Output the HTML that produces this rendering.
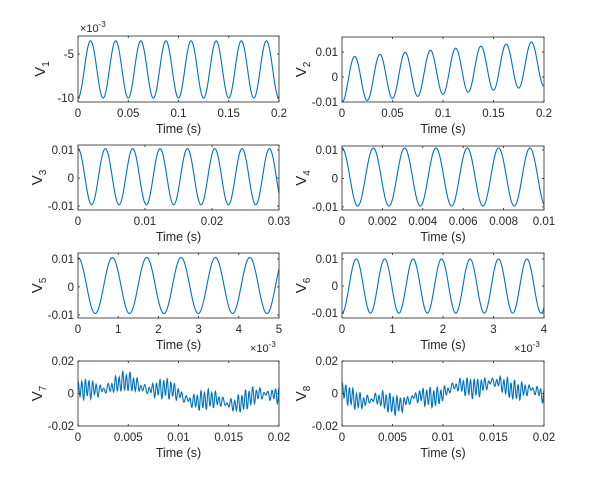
<!DOCTYPE html>
<html><head><meta charset="utf-8"><style>
body{margin:0;background:#fff;}
svg{display:block;font-family:"Liberation Sans",sans-serif;}
</style></head><body>
<svg id="s" width="600" height="493" xmlns="http://www.w3.org/2000/svg"></svg>
<script>
var s=document.getElementById('s'),h='';
var PI2=2*Math.PI;
function ax(o){
 var L=o.x0,R=o.x1,T=o.y0,B=o.y1;
 function X(t){return L+(t-o.xl[0])/(o.xl[1]-o.xl[0])*(R-L);}
 function Y(v){return B-(v-o.yl[0])/(o.yl[1]-o.yl[0])*(B-T);}
 var N=o.N||1500,d='';
 for(var i=0;i<=N;i++){var t=o.xl[0]+(o.xl[1]-o.xl[0])*i/N;var v=o.f(t);var y=Math.max(T,Math.min(B,Y(v)));d+=(i?'L':'M')+X(t).toFixed(2)+' '+y.toFixed(2);}
 h+='<path d="'+d+'" fill="none" stroke="#0072BD" stroke-width="1.1"/>';
 h+='<rect x="'+L+'" y="'+T+'" width="'+(R-L)+'" height="'+(B-T)+'" fill="none" stroke="#262626" stroke-width="0.8"/>';
 o.xt.forEach(function(t){var x=X(t[0]);h+='<line x1="'+x+'" x2="'+x+'" y1="'+B+'" y2="'+(B-2)+'" stroke="#262626" stroke-width="0.8"/><line x1="'+x+'" x2="'+x+'" y1="'+T+'" y2="'+(T+2)+'" stroke="#262626" stroke-width="0.8"/>';
  h+='<text x="'+x+'" y="'+(B+15)+'" font-size="11.5" fill="#262626" text-anchor="middle">'+t[1]+'</text>';});
 o.yt.forEach(function(t){var y=Y(t[0]);h+='<line x1="'+L+'" x2="'+(L+2)+'" y1="'+y+'" y2="'+y+'" stroke="#262626" stroke-width="0.8"/><line x1="'+R+'" x2="'+(R-2)+'" y1="'+y+'" y2="'+y+'" stroke="#262626" stroke-width="0.8"/>';
  h+='<text x="'+(L-4)+'" y="'+(y+4)+'" font-size="11.5" fill="#262626" text-anchor="end">'+t[1]+'</text>';});
 h+='<text x="'+((L+R)/2)+'" y="'+(B+31)+'" font-size="12.5" fill="#262626" text-anchor="middle">Time (s)</text>';
 var cx=L-(o.yw||36),cy=(T+B)/2;
 h+='<text transform="translate('+cx+' '+cy+') rotate(-90)" font-size="15" fill="#262626" text-anchor="middle">V<tspan font-size="10" dy="4">'+o.n+'</tspan></text>';
}
var c1=[78,279],c2=[342,544];
ax({n:1,x0:c1[0],x1:c1[1],y0:36,y1:102,xl:[0,0.2],yl:[-10.45,-2.95],f:function(t){return -6.75-3.25*Math.cos(PI2*40*t);},
 xt:[[0,'0'],[0.05,'0.05'],[0.1,'0.1'],[0.15,'0.15'],[0.2,'0.2']],yt:[[-5,'-5'],[-10,'-10']],yw:33});
h+='<text x="80" y="32" font-size="11" fill="#262626">×10<tspan font-size="8" dy="-5">-3</tspan></text>';
ax({n:2,x0:c2[0],x1:c2[1],y0:37,y1:102,xl:[0,0.2],yl:[-0.01,0.016],f:function(t){return -0.0012+0.033*t-0.009*Math.cos(PI2*40*t);},
 xt:[[0,'0'],[0.05,'0.05'],[0.1,'0.1'],[0.15,'0.15'],[0.2,'0.2']],yt:[[0.01,'0.01'],[0,'0'],[-0.01,'-0.01']]});
ax({n:3,x0:c1[0],x1:c1[1],y0:145,y1:210,xl:[0,0.03],yl:[-0.0114,0.0118],f:function(t){return 0.0005+0.01*Math.cos(PI2*245*t);},
 xt:[[0,'0'],[0.01,'0.01'],[0.02,'0.02'],[0.03,'0.03']],yt:[[0.01,'0.01'],[0,'0'],[-0.01,'-0.01']]});
ax({n:4,x0:c2[0],x1:c2[1],y0:146,y1:210,xl:[0,0.01],yl:[-0.0111,0.0114],f:function(t){return 0.0005+0.0102*Math.cos(PI2*645*t);},
 xt:[[0,'0'],[0.002,'0.002'],[0.004,'0.004'],[0.006,'0.006'],[0.008,'0.008'],[0.01,'0.01']],yt:[[0.01,'0.01'],[0,'0'],[-0.01,'-0.01']]});
ax({n:5,x0:c1[0],x1:c1[1],y0:253,y1:318,xl:[0,5],yl:[-0.0111,0.0121],f:function(t){return 0.0005+0.01*Math.cos(PI2*1.17*t);},
 xt:[[0,'0'],[1,'1'],[2,'2'],[3,'3'],[4,'4'],[5,'5']],yt:[[0.01,'0.01'],[0,'0'],[-0.01,'-0.01']]});
ax({n:6,x0:c2[0],x1:c2[1],y0:253,y1:318,xl:[0,4],yl:[-0.0118,0.0122],f:function(t){return -0.01*Math.cos(PI2*1.775*t);},
 xt:[[0,'0'],[1,'1'],[2,'2'],[3,'3'],[4,'4']],yt:[[0.01,'0.01'],[0,'0'],[-0.01,'-0.01']]});
ax({n:7,N:600,x0:c1[0],x1:c1[1],y0:361,y1:426,xl:[0,0.02],yl:[-0.02,0.02],f:function(t){return 0.0055*Math.sin(PI2*52*t)+0.0018*Math.sin(PI2*230*t+1)+0.0035*Math.sin(PI2*2700*t+1.6)+0.002*Math.sin(PI2*2950*t+0.5)+0.0012*Math.sin(PI2*1400*t);},
 xt:[[0,'0'],[0.005,'0.005'],[0.01,'0.01'],[0.015,'0.015'],[0.02,'0.02']],yt:[[0.02,'0.02'],[0,'0'],[-0.02,'-0.02']]});
ax({n:8,N:600,x0:c2[0],x1:c2[1],y0:361,y1:426,xl:[0,0.02],yl:[-0.02,0.02],f:function(t){return -0.0055*Math.sin(PI2*52*t)+0.0018*Math.sin(PI2*260*t+2)+0.0035*Math.sin(PI2*2750*t+1.6)+0.002*Math.sin(PI2*3000*t+0.2)+0.0012*Math.sin(PI2*1300*t);},
 xt:[[0,'0'],[0.005,'0.005'],[0.01,'0.01'],[0.015,'0.015'],[0.02,'0.02']],yt:[[0.02,'0.02'],[0,'0'],[-0.02,'-0.02']]});
h+='<text x="250" y="352" font-size="11" fill="#262626">×10<tspan font-size="8" dy="-5">-3</tspan></text>';
h+='<text x="514" y="352" font-size="11" fill="#262626">×10<tspan font-size="8" dy="-5">-3</tspan></text>';
s.innerHTML=h;
</script>
</body></html>
